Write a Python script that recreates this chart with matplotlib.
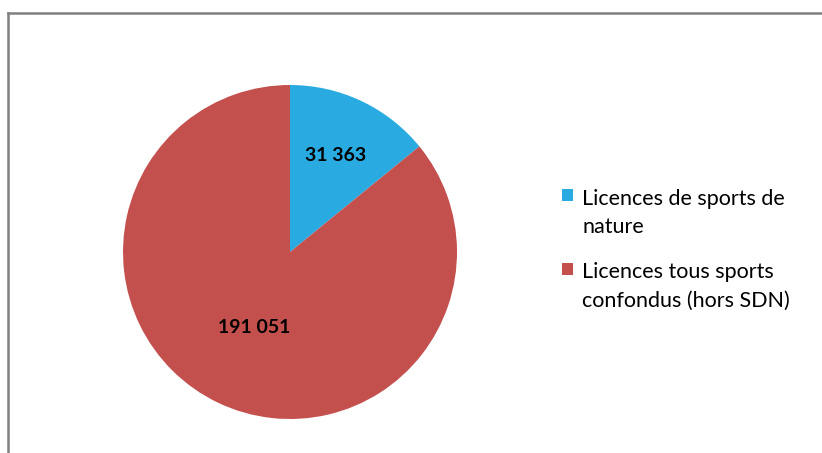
import matplotlib.pyplot as plt
from matplotlib.lines import Line2D
from matplotlib.patches import Patch, Rectangle
from matplotlib.legend_handler import HandlerPatch

labels = ["Licences de sports de\nnature", "Licences tous sports\nconfondus (hors SDN)"]
values = [31363, 191051]
colors = ["#29ABE2", "#C4504E"]
label_dist = [0.64, 0.50]

plt.rcParams['font.family'] = ['Lato', 'DejaVu Sans']

fig = plt.figure(figsize=(8.22, 4.53), dpi=100)
W, H = 822, 453
cx, cy, r = 290, 252, 167
ax = fig.add_axes([(cx - r) / W, (H - cy - r) / H, 2 * r / W, 2 * r / H])

fmt = lambda v: f"{v:,}".replace(",", " ")
vals = iter(values)
wedges, texts, autotexts = ax.pie(values, colors=colors, startangle=90, counterclock=False,
                                  autopct=lambda p: fmt(next(vals)), pctdistance=0.6,
                                  textprops=dict(fontsize=14, fontweight='bold', color='black'))
for t, d in zip(autotexts, label_dist):
    x, y = t.get_position()
    s = d / 0.6
    t.set_position((x * s, y * s))
ax.set_xlim(-1, 1)
ax.set_ylim(-1, 1)
ax.set_aspect('auto')
ax.axis('off')

LS = 1.5


def top_square(legend, orig_handle, xdescent, ydescent, width, height, fontsize):
    sq = 0.55 * fontsize
    off = 0.5 * LS * fontsize * 1.12
    return Rectangle((-xdescent, -ydescent + height / 2 - sq / 2 + off), sq, sq)


handles = [Patch(facecolor=c, edgecolor='none') for c in colors]
leg = fig.legend(handles, labels, loc='upper left', bbox_to_anchor=(553 / W, 1 - 180 / H),
                 frameon=False, fontsize=15.5, handlelength=0.6, handleheight=0.7,
                 handletextpad=0.35, labelspacing=1.2, borderaxespad=0,
                 handler_map={Patch: HandlerPatch(patch_func=top_square)})
for t in leg.get_texts():
    t.set_linespacing(LS)

# chart area border
fig.add_artist(Line2D([8 / W, 8 / W], [0, 1 - 13 / H], color='#808080', lw=1.8))
fig.add_artist(Line2D([8 / W, 1], [1 - 13 / H, 1 - 13 / H], color='#808080', lw=1.8))

fig.savefig("out.png", dpi=100)
